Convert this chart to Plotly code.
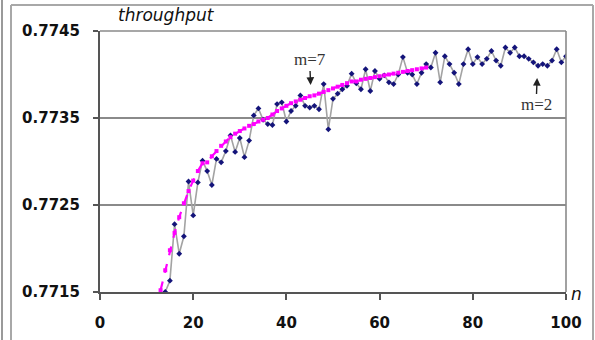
import plotly.graph_objects as go

# ---------------- data ----------------
n_blue = list(range(14, 101))
throughput_blue = [
    0.77150, 0.77163, 0.77228, 0.77194, 0.77214, 0.77277, 0.77238, 0.77276, 0.77301, 0.77289,  # 14-23
    0.77273, 0.77303, 0.77299, 0.77312, 0.77330, 0.77311, 0.77327, 0.77305, 0.77324, 0.77353,  # 24-33
    0.77361, 0.77348, 0.77343, 0.77342, 0.77366, 0.77368, 0.77346, 0.77358, 0.77364, 0.77376,  # 34-43
    0.77364, 0.77362, 0.77364, 0.77360, 0.77389, 0.77337, 0.77372, 0.77378, 0.77383, 0.77387,  # 44-53
    0.77401, 0.77390, 0.77383, 0.77406, 0.77381, 0.77404, 0.77395, 0.77399, 0.77391, 0.77389,  # 54-63
    0.77400, 0.77420, 0.77402, 0.77400, 0.77389, 0.77402, 0.77412, 0.77408, 0.77425, 0.77391,  # 64-73
    0.77421, 0.77412, 0.77402, 0.77389, 0.77412, 0.77429, 0.77412, 0.77420, 0.77412, 0.77418,  # 74-83
    0.77427, 0.77416, 0.77410, 0.77431, 0.77425, 0.77431, 0.77421, 0.77421, 0.77418, 0.77414,  # 84-93
    0.77410, 0.77412, 0.77410, 0.77416, 0.77429, 0.77414, 0.77421,                              # 94-100
]

n_fit = list(range(13, 71))
throughput_fit = [
    0.77152, 0.77175, 0.77198, 0.77218, 0.77236, 0.77252, 0.77266, 0.77278, 0.77289, 0.77298,  # 13-22
    0.77299, 0.77306, 0.77312, 0.77318, 0.77323, 0.77328, 0.77332, 0.77335, 0.77338, 0.77341,  # 23-32
    0.77343, 0.77346, 0.77348, 0.77350, 0.77354, 0.77358, 0.77361, 0.77364, 0.77367, 0.77369,  # 33-42
    0.77371, 0.77373, 0.77375, 0.77376, 0.77378, 0.77380, 0.77382, 0.77384, 0.77386, 0.77388,  # 43-52
    0.77390, 0.77392, 0.77392, 0.77394, 0.77395, 0.77396, 0.77397, 0.77398, 0.77399, 0.77400,  # 53-62
    0.77401, 0.77402, 0.77403, 0.77404, 0.77405, 0.77406, 0.77407, 0.77408,                    # 63-70
]

x_ticks = [0, 20, 40, 60, 80, 100]
y_ticks = [0.7715, 0.7725, 0.7735, 0.7745]
y_tick_labels = ["0.7715", "0.7725", "0.7735", "0.7745"]

# ---------------- layout geometry ----------------
W, H = 595, 340
L, R, T, B = 100, 29, 31, 48
PW, PH = W - L - R, H - T - B


def px(xp):
    return (xp - L) / PW


def py(yp):
    return (H - B - yp) / PH


fig = go.Figure()

fig.add_trace(go.Scatter(
    x=n_blue, y=throughput_blue, mode="lines+markers",
    line=dict(color="#a3a3a3", width=1.6),
    marker=dict(symbol="diamond", size=4.5, color="#14147a"),
    showlegend=False,
))
fig.add_trace(go.Scatter(
    x=n_fit, y=throughput_fit, mode="lines+markers",
    line=dict(color="#ff00ff", width=2.2, dash="dash"),
    marker=dict(symbol="square", size=4, color="#ff00ff", line=dict(width=0)),
    showlegend=False,
))

tick_font = dict(family="DejaVu Sans", size=15, color="#111111", weight="bold")

fig.update_layout(
    width=W, height=H,
    margin=dict(l=L, r=R, t=T, b=B, pad=0, autoexpand=False),
    paper_bgcolor="white", plot_bgcolor="white",
    xaxis=dict(
        range=[0, 100], tickvals=x_ticks, ticktext=[str(v) for v in x_ticks],
        showgrid=False, zeroline=False, automargin=False,
        showline=True, linecolor="#555555", linewidth=2,
        ticks="outside", ticklen=6, tickwidth=1.5, tickcolor="#555555",
        tickfont=tick_font, ticklabelstandoff=10,
    ),
    yaxis=dict(
        range=[0.7715, 0.7745], tickvals=y_ticks, ticktext=y_tick_labels,
        showgrid=True, gridcolor="#8a8a8a", gridwidth=1.6,
        zeroline=False, automargin=False,
        showline=True, linecolor="#555555", linewidth=2,
        ticks="outside", ticklen=5, tickwidth=1.5, tickcolor="#555555",
        tickfont=tick_font, ticklabelstandoff=10,
    ),
)

shapes = [
    # plot-area top and right border
    dict(type="line", xref="paper", yref="paper", x0=0, x1=1, y0=1, y1=1,
         line=dict(color="#8a8a8a", width=1.6)),
    dict(type="line", xref="paper", yref="paper", x0=1, x1=1, y0=0, y1=1,
         line=dict(color="#8a8a8a", width=1.6)),
    # outer frame
    dict(type="line", xref="paper", yref="paper", x0=px(2), x1=px(2), y0=py(340), y1=py(0),
         line=dict(color="#9a9a9a", width=2)),
    dict(type="line", xref="paper", yref="paper", x0=px(11), x1=px(11), y0=py(340), y1=py(5),
         line=dict(color="#a8a8a8", width=2)),
    dict(type="line", xref="paper", yref="paper", x0=px(11), x1=px(593), y0=py(5), y1=py(5),
         line=dict(color="#a8a8a8", width=2)),
    dict(type="line", xref="paper", yref="paper", x0=px(593), x1=px(593), y0=py(5), y1=py(340),
         line=dict(color="#a8a8a8", width=2)),
]
fig.update_layout(shapes=shapes)

annotations = [
    dict(text="<i>throughput</i>", xref="paper", yref="paper", x=px(116), y=py(15),
         xanchor="left", yanchor="middle", showarrow=False,
         font=dict(family="DejaVu Sans", size=17, color="#111111")),
    dict(text="<i>n</i>", xref="paper", yref="paper", x=px(576), y=py(294),
         xanchor="center", yanchor="middle", showarrow=False,
         font=dict(family="DejaVu Sans", size=17, color="#111111")),
    dict(text="m=7", xref="x", yref="y", x=45.2, y=0.77388,
         showarrow=True, ax=-1, ay=-25, arrowhead=2, arrowsize=1.1, arrowwidth=1.4,
         arrowcolor="#222222", standoff=0,
         font=dict(family="Liberation Serif", size=17, color="#333333")),
    dict(text="m=2", xref="x", yref="y", x=93.8, y=0.77396,
         showarrow=True, ax=-1, ay=27, arrowhead=2, arrowsize=1.1, arrowwidth=1.4,
         arrowcolor="#222222", standoff=0,
         font=dict(family="Liberation Serif", size=17, color="#333333")),
]
fig.update_layout(annotations=annotations)

fig.write_html("out.html")
